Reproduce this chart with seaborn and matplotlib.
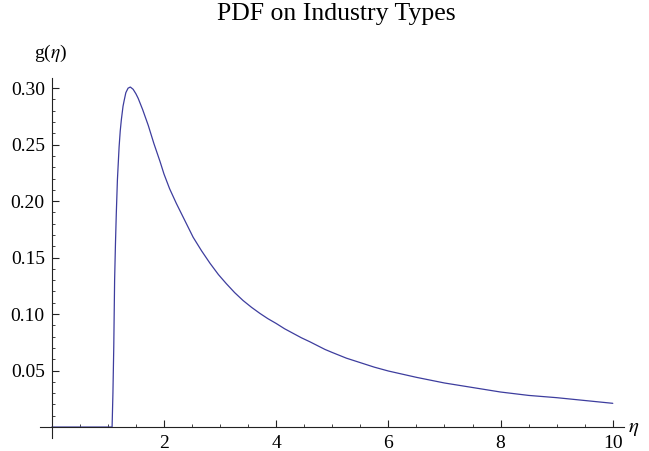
import numpy as np
import pandas as pd
import matplotlib
matplotlib.use("Agg")
import matplotlib.pyplot as plt
from matplotlib.ticker import FixedLocator
import seaborn as sns

# values
eta = [0.0, 1.075, 1.09, 1.105, 1.12, 1.135, 1.15, 1.17, 1.20, 1.22, 1.24, 1.27,
       1.29, 1.32, 1.36, 1.40, 1.45, 1.50, 1.54, 1.62, 1.72, 1.82, 1.93, 2.0,
       2.1, 2.22, 2.37, 2.52, 2.67, 2.82, 2.97, 3.11, 3.26, 3.41, 3.56, 3.71,
       3.85, 4.0, 4.15, 4.3, 4.45, 4.6, 4.87, 5.0, 5.25, 5.5, 5.75, 6.0,
       6.5, 7.0, 7.5, 8.0, 8.5, 9.0, 9.5, 10.0]
g = [0.0, 0.0, 0.030, 0.071, 0.130, 0.162, 0.189, 0.219, 0.248, 0.262, 0.272, 0.284,
     0.289, 0.296, 0.300, 0.301, 0.299, 0.295, 0.291, 0.281, 0.267, 0.251, 0.235, 0.224,
     0.211, 0.198, 0.183, 0.168, 0.156, 0.145, 0.135, 0.127, 0.119, 0.112, 0.106, 0.1006,
     0.096, 0.0917, 0.087, 0.083, 0.079, 0.0755, 0.0687, 0.066, 0.061, 0.057, 0.053, 0.0496,
     0.044, 0.039, 0.035, 0.031, 0.028, 0.026, 0.0235, 0.021]
x_ticks = [2, 4, 6, 8, 10]
y_ticks = [0.05, 0.10, 0.15, 0.20, 0.25, 0.30]
y_labels = ["0.05", "0.10", "0.15", "0.20", "0.25", "0.30"]

df = pd.DataFrame({"eta": eta, "g": g})

sns.set_style("ticks")
plt.rcParams['font.family'] = ['Liberation Serif', 'DejaVu Serif']
plt.rcParams['mathtext.fontset'] = 'stix'
plt.rcParams['text.color'] = 'black'
plt.rcParams['xtick.color'] = 'black'
plt.rcParams['ytick.color'] = 'black'

fig = plt.figure(figsize=(6.49, 4.51), dpi=100)
ax = fig.add_axes([40/649, 1-438/451, (624-40)/649, (438-78)/451])

sns.lineplot(data=df, x="eta", y="g", ax=ax, color="#3d3d9e", linewidth=0.9, sort=False)

ax.set_xlim(-0.21, 10.2)
ax.set_ylim(-0.0097, 0.309)

for s in ["top", "right"]:
    ax.spines[s].set_visible(False)
for s in ["left", "bottom"]:
    ax.spines[s].set_position(("data", 0))
    ax.spines[s].set_color("#222222")
    ax.spines[s].set_linewidth(0.8)

ax.xaxis.set_major_locator(FixedLocator(x_ticks))
ax.xaxis.set_minor_locator(FixedLocator([v for v in np.arange(0.5, 10.01, 0.5) if v not in x_ticks]))
ax.yaxis.set_major_locator(FixedLocator(y_ticks))
ax.yaxis.set_minor_locator(FixedLocator([v for v in np.arange(0.01, 0.305, 0.01)]))
ax.set_yticklabels(y_labels)
ax.set_xticklabels([str(t) for t in x_ticks])

ax.tick_params(which="major", direction="in", length=5, width=0.8, color="#222222",
               labelcolor="black", labelsize=14, pad=5)
ax.tick_params(which="minor", direction="in", length=2.5, width=0.6, color="#222222")
ax.tick_params(axis="x", which="major", pad=5.5)
ax.set_xlabel("")
ax.set_ylabel("")

fig.text(336/649, 1-14/451, "PDF on Industry Types", ha="center", va="center", fontsize=18.5)
fig.text(51/649, 1-53/451, r"g($\eta$)", ha="center", va="center", fontsize=14)
fig.text(634/649, 1-428/451, r"$\eta$", ha="center", va="center", fontsize=15)

fig.savefig("out.png", dpi=100)
